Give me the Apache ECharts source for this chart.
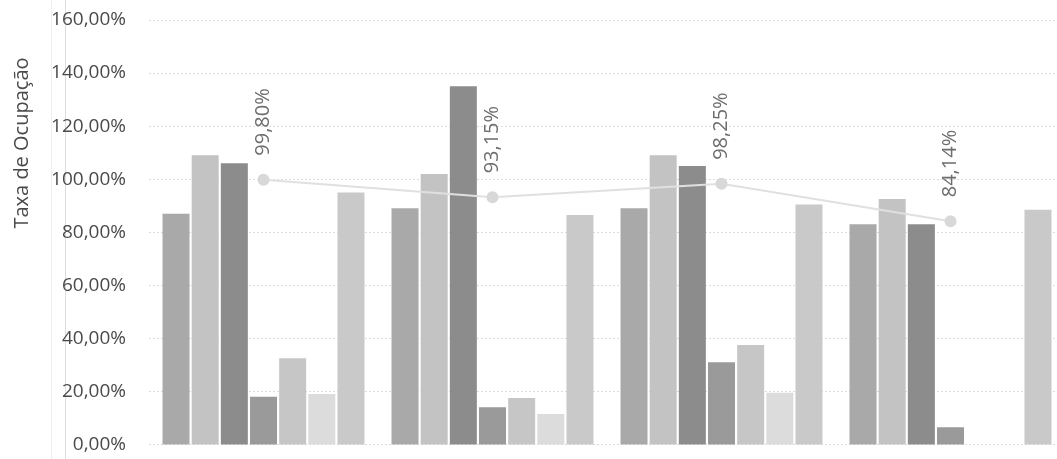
<!DOCTYPE html>
<html>
<head>
<meta charset="utf-8">
<script src="https://cdn.jsdelivr.net/npm/echarts@6/dist/echarts.min.js"></script>
<style>html,body{margin:0;padding:0;background:#fff;overflow:hidden;width:1057px;height:459px}#c{width:1065px;height:459px}</style>
</head>
<body>
<div id="c"></div>
<script>
const categories = ['1', '2', '3', '4'];
const barNames = ['S1', 'S2', 'S3', 'S4', 'S5', 'S6', 'S7'];
const s1 = [87, 89, 89, 83];
const s2 = [109, 102, 109, 92.5];
const s3 = [106, 135, 105, 83];
const s4 = [18, 14, 31, 6.5];
const s5 = [32.5, 17.5, 37.5, 0];
const s6 = [19, 11.5, 19.5, 0];
const s7 = [95, 86.5, 90.5, 88.5];
const barValues = [s1, s2, s3, s4, s5, s6, s7];
const lineValues = [99.80, 93.15, 98.25, 84.14];
const yTicks = [0, 20, 40, 60, 80, 100, 120, 140, 160];
const barColors = ['#a9a9a9', '#c3c3c3', '#8c8c8c', '#9a9a9a', '#c6c6c6', '#dcdcdc', '#c9c9c9'];

const fmt = v => v.toFixed(2).replace('.', ',') + '%';

const chart = echarts.init(document.getElementById('c'));
const series = barValues.map((vals, i) => ({
  name: barNames[i],
  type: 'bar',
  data: vals,
  barWidth: 27,
  barGap: '8%',
  itemStyle: { color: barColors[i] },
  z: 2
}));
series.push({
  name: 'Taxa',
  type: 'line',
  data: lineValues,
  symbol: 'circle',
  symbolSize: 12,
  lineStyle: { color: '#e0e0e0', width: 2 },
  itemStyle: { color: '#d8d8d8' },
  z: 5,
  label: {
    show: true,
    position: 'top',
    distance: 18,
    rotate: 90,
    align: 'left',
    verticalAlign: 'middle',
    formatter: p => fmt(p.value),
    fontFamily: 'Open Sans',
    fontSize: 20,
    color: '#6e6e6e'
  }
});

chart.setOption({
  animation: false,
  backgroundColor: '#ffffff',
  grid: { left: 149, right: 0, top: 20, bottom: 14.5, containLabel: false },
  xAxis: {
    type: 'category',
    data: categories,
    axisLine: { show: false },
    axisTick: { show: false },
    axisLabel: { show: false }
  },
  yAxis: {
    type: 'value',
    min: yTicks[0],
    max: yTicks[yTicks.length - 1],
    interval: 20,
    axisLine: { show: false },
    axisTick: { show: false },
    axisLabel: {
      formatter: v => fmt(v),
      margin: 23,
      fontFamily: 'Open Sans',
      fontSize: 19,
      color: '#4a4a4a'
    },
    splitLine: { lineStyle: { color: '#dcdcdc', type: [2, 2] } }
  },
  graphic: [
    { type: 'line', shape: { x1: 65.5, y1: 0, x2: 65.5, y2: 459 }, style: { stroke: '#dddddd', lineWidth: 1 }, silent: true },
    { type: 'line', shape: { x1: 51.5, y1: 0, x2: 51.5, y2: 459 }, style: { stroke: '#eeeeee', lineWidth: 1 }, silent: true },
    {
      type: 'text',
      x: 22, y: 143,
      rotation: Math.PI / 2,
      style: {
        text: 'Taxa de Ocupação',
        fontFamily: 'Open Sans',
        fontSize: 20,
        fill: '#4a4a4a',
        align: 'center',
        verticalAlign: 'middle'
      }
    }
  ],
  series: series
});
</script>
</body>
</html>
